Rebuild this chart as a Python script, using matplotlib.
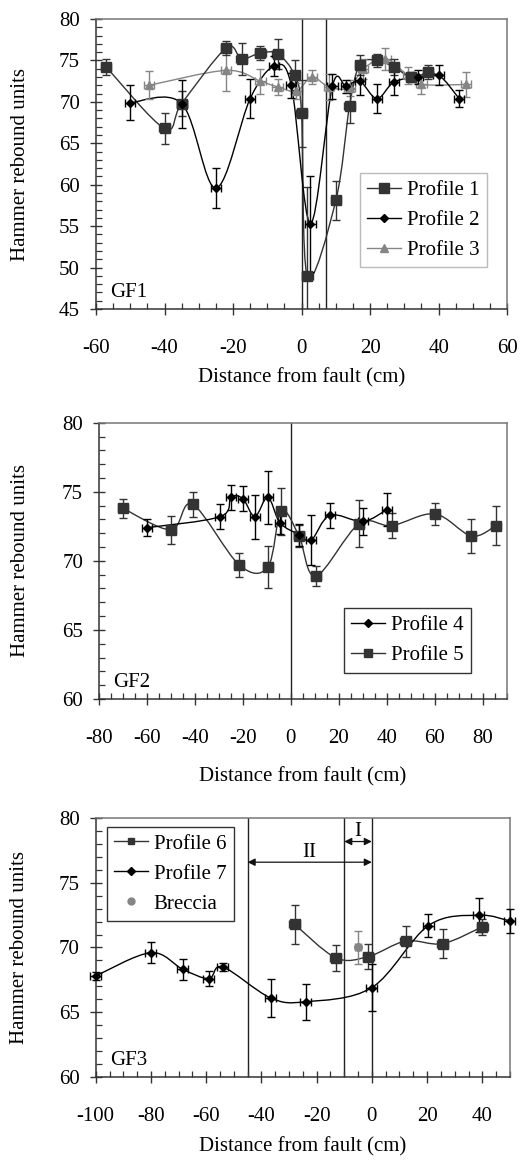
import numpy as np
import matplotlib
matplotlib.use('Agg')
import matplotlib.pyplot as plt
from matplotlib.path import Path
from matplotlib.patches import PathPatch
from matplotlib.lines import Line2D
from matplotlib.ticker import MultipleLocator

# ---------------- data ----------------
# GF1
x1 = [-57, -40, -35, -22, -17.5, -12, -7, -2, 0, 1.7, 10, 14, 17, 22, 27, 32, 37]
y1 = [74.2, 66.8, 69.8, 76.5, 75.2, 75.9, 75.8, 73.2, 68.6, 49.0, 58.1, 69.5, 74.5, 75.0, 74.2, 73.0, 73.6]
e1 = [1.0, 1.9, 1.5, 0.9, 1.9, 0.8, 1.8, 1.8, 4.0, 10.7, 2.4, 2.0, 1.2, 0.8, 1.0, 0.6, 0.8]

x2 = [-50, -35, -25, -15, -8, -3, 2.6, 9, 13, 17, 22, 27, 34, 40, 46]
y2 = [69.9, 69.8, 59.6, 70.4, 74.3, 72.0, 55.3, 71.9, 71.9, 72.5, 70.4, 72.4, 73.0, 73.2, 70.4]
e2 = [2.1, 2.9, 2.4, 2.4, 1.2, 1.5, 5.8, 1.5, 0.8, 1.7, 1.8, 1.6, 0.8, 1.2, 1.0]

x3 = [-44.5, -22, -12, -7, -1.5, 3, 8, 14, 18, 24.5, 31, 35, 48]
y3 = [72.0, 73.8, 72.5, 71.8, 71.3, 73.0, 71.8, 71.7, 74.0, 75.2, 73.2, 72.1, 72.1]
e3 = [1.7, 2.5, 1.5, 1.0, 1.0, 0.8, 1.6, 1.0, 1.2, 1.3, 1.0, 1.2, 1.5]

gf1_faults = [0, 7]

# GF2
x4 = [-60, -29.5, -25, -20, -15, -9.6, -4.5, 3.4, 8.5, 16.3, 30, 40]
y4 = [72.4, 73.2, 74.6, 74.5, 73.2, 74.6, 72.75, 71.9, 71.5, 73.3, 72.85, 73.7]
e4 = [0.6, 0.9, 0.9, 0.9, 1.6, 1.9, 0.8, 0.8, 1.8, 0.9, 1.0, 1.2]

x5 = [-70, -50, -41, -21.5, -9.6, -4, 3.4, 10.4, 28.5, 42, 60, 75.3, 85.5]
y5 = [73.8, 72.25, 74.1, 69.7, 69.55, 73.6, 71.8, 68.9, 72.7, 72.55, 73.4, 71.8, 72.55]
e5 = [0.7, 1.0, 0.9, 0.9, 1.5, 1.7, 0.8, 0.7, 1.7, 0.9, 0.8, 1.2, 1.4]

# GF3
x6 = [-28, -13, -1.3, 12.3, 25.6, 40]
y6 = [71.8, 69.2, 69.3, 70.5, 70.3, 71.6]
e6 = [1.5, 1.0, 1.0, 1.2, 1.1, 0.6]

x7 = [-100, -80, -68.4, -59, -54, -36.7, -24, 0, 20.5, 38.7, 50]
y7 = [67.8, 69.6, 68.3, 67.6, 68.5, 66.1, 65.8, 66.9, 71.7, 72.5, 72.05]
e7 = [0.3, 0.8, 0.8, 0.6, 0.3, 1.5, 1.4, 1.8, 0.9, 1.3, 0.9]

xb = [-5]
yb = [70.0]
eb = [1.3]

gf3_faults = [-45, -10, 0]

# ---------------- style ----------------
plt.rcParams['font.family'] = ['Liberation Serif', 'DejaVu Serif']
plt.rcParams['font.size'] = 15
plt.rcParams['axes.unicode_minus'] = False

C1 = '#333333'
C2 = '#000000'
C3 = '#858585'


def smooth(ax, x, y, color, lw=1.0):
    # smoothed line (Catmull-Rom style bezier through the data points)
    x = np.asarray(x, float)
    y = np.asarray(y, float)
    n = len(x)
    verts = [(x[0], y[0])]
    codes = [Path.MOVETO]
    for i in range(n - 1):
        a = i - 1 if i > 0 else i
        b = i + 2 if i + 2 < n else i + 1
        c1 = (x[i] + (x[i + 1] - x[a]) / 6, y[i] + (y[i + 1] - y[a]) / 6)
        c2 = (x[i + 1] - (x[b] - x[i]) / 6, y[i + 1] - (y[b] - y[i]) / 6)
        verts += [c1, c2, (x[i + 1], y[i + 1])]
        codes += [Path.CURVE4] * 3
    ax.add_patch(PathPatch(Path(verts, codes), fill=False, ec=color, lw=lw, zorder=2))


def series(ax, x, y, e, xe, color, marker, ms, line=True, clip=True):
    if line:
        smooth(ax, x, y, color)
    ax.errorbar(x, y, yerr=e, xerr=xe, fmt=marker, color=color, ms=ms,
                mec=color, mfc=color, ecolor=color, elinewidth=1.0,
                capsize=3.2, capthick=1.0, zorder=3, clip_on=clip)


def style(ax, xmaj, xmin, ymaj, ymin):
    ax.xaxis.set_major_locator(MultipleLocator(xmaj))
    ax.xaxis.set_minor_locator(MultipleLocator(xmin))
    ax.yaxis.set_major_locator(MultipleLocator(ymaj))
    ax.yaxis.set_minor_locator(MultipleLocator(ymin))
    ax.tick_params(which='major', direction='inout', length=9, width=1.0,
                   color='#333333', labelsize=15)
    ax.tick_params(axis='x', which='major', pad=17)
    ax.tick_params(axis='y', which='major', pad=7)
    ax.tick_params(which='minor', direction='in', length=4.5, width=0.9, color='#333333')
    for s in ['left', 'bottom']:
        ax.spines[s].set_color('#333333')
        ax.spines[s].set_linewidth(1.1)
    for s in ['top', 'right']:
        ax.spines[s].set_color('#777777')
        ax.spines[s].set_linewidth(1.1)


leg_kw = dict(borderaxespad=0, fancybox=False, framealpha=1, fontsize=15,
              handlelength=1.6, handletextpad=0.3, labelspacing=0.5, borderpad=0.35)

fig = plt.figure(figsize=(5.23, 11.6), dpi=100)

# ---------------- GF1 ----------------
ax1 = fig.add_axes([0.1836, 0.7336, 0.786, 0.25])
for f in gf1_faults:
    ax1.axvline(f, color='#222222', lw=1.0, zorder=1)
series(ax1, x3, y3, e3, 1.5, C3, '^', 6)
series(ax1, x1, y1, e1, 1.5, C1, 's', 6.5)
series(ax1, x2, y2, e2, 1.5, C2, 'D', 4.5)
ax1.set_xlim(-60, 60)
ax1.set_ylim(45, 80)
style(ax1, 20, 5, 5, 1)
ax1.text(0.034, 0.025, 'GF1', transform=ax1.transAxes, fontsize=15, ha='left', va='bottom')
h1 = [Line2D([], [], color=C1, marker='s', ms=6.5, lw=1),
      Line2D([], [], color=C2, marker='D', ms=4.5, lw=1),
      Line2D([], [], color=C3, marker='^', ms=6, lw=1)]
ax1.legend(h1, ['Profile 1', 'Profile 2', 'Profile 3'], loc='upper right',
           bbox_to_anchor=(0.951, 0.469), edgecolor='#bbbbbb', **leg_kw)
ax1.set_xlabel('Distance from fault (cm)', fontsize=15)
ax1.set_ylabel('Hammer rebound units', fontsize=15)
ax1.xaxis.set_label_coords(0.5, -0.205)
ax1.yaxis.set_label_coords(-0.16, 0.5)

# ---------------- GF2 ----------------
ax2 = fig.add_axes([0.1893, 0.3974, 0.7795, 0.2382])
ax2.axvline(0, color='#222222', lw=1.0, zorder=1)
series(ax2, x5, y5, e5, 2, C1, 's', 6.5)
series(ax2, x4, y4, e4, 2, C2, 'D', 4.5)
ax2.set_xlim(-80, 90)
ax2.set_ylim(60, 80)
style(ax2, 20, 5, 5, 1)
ax2.text(0.034, 0.025, 'GF2', transform=ax2.transAxes, fontsize=15, ha='left', va='bottom')
h2 = [Line2D([], [], color=C2, marker='D', ms=4.5, lw=1),
      Line2D([], [], color=C1, marker='s', ms=5.5, lw=1)]
ax2.legend(h2, ['Profile 4', 'Profile 5'], loc='upper right',
           bbox_to_anchor=(0.912, 0.328), edgecolor='#333333', **leg_kw)
ax2.set_xlabel('Distance from fault (cm)', fontsize=15)
ax2.set_ylabel('Hammer rebound units', fontsize=15)
ax2.xaxis.set_label_coords(0.5, -0.245)
ax2.yaxis.set_label_coords(-0.17, 0.5)

# ---------------- GF3 ----------------
ax3 = fig.add_axes([0.183, 0.0718, 0.792, 0.2228])
for f in gf3_faults:
    ax3.axvline(f, color='#222222', lw=1.0, zorder=1)
series(ax3, x6, y6, e6, 2, C1, 's', 6.5, clip=False)
series(ax3, x7, y7, e7, 2, C2, 'D', 4.5, clip=False)
series(ax3, xb, yb, eb, 1, C3, 'o', 5.5, line=False)
ax3.set_xlim(-100, 50)
ax3.set_ylim(60, 80)
style(ax3, 20, 5, 5, 1)
ax3.annotate('', xy=(-45, 76.6), xytext=(0, 76.6),
             arrowprops=dict(arrowstyle='<|-|>', color='#111111', lw=0.9,
                             shrinkA=0, shrinkB=0, mutation_scale=11))
ax3.text(-22.5, 76.65, 'II', ha='center', va='bottom', fontsize=15)
ax3.annotate('', xy=(-10, 78.2), xytext=(0, 78.2),
             arrowprops=dict(arrowstyle='<|-|>', color='#111111', lw=0.9,
                             shrinkA=0, shrinkB=0, mutation_scale=11))
ax3.text(-5, 78.25, 'I', ha='center', va='bottom', fontsize=15)
ax3.text(0.034, 0.025, 'GF3', transform=ax3.transAxes, fontsize=15, ha='left', va='bottom')
h3 = [Line2D([], [], color=C1, marker='s', ms=5, lw=1),
      Line2D([], [], color=C2, marker='D', ms=4.5, lw=1),
      Line2D([], [], color=C3, marker='o', ms=5, lw=0)]
ax3.legend(h3, ['Profile 6', 'Profile 7', 'Breccia'], loc='upper left',
           bbox_to_anchor=(0.027, 0.967), edgecolor='#333333', **leg_kw)
ax3.set_xlabel('Distance from fault (cm)', fontsize=15)
ax3.set_ylabel('Hammer rebound units', fontsize=15)
ax3.xaxis.set_label_coords(0.5, -0.235)
ax3.yaxis.set_label_coords(-0.16, 0.5)

fig.savefig('out.png', dpi=100)
